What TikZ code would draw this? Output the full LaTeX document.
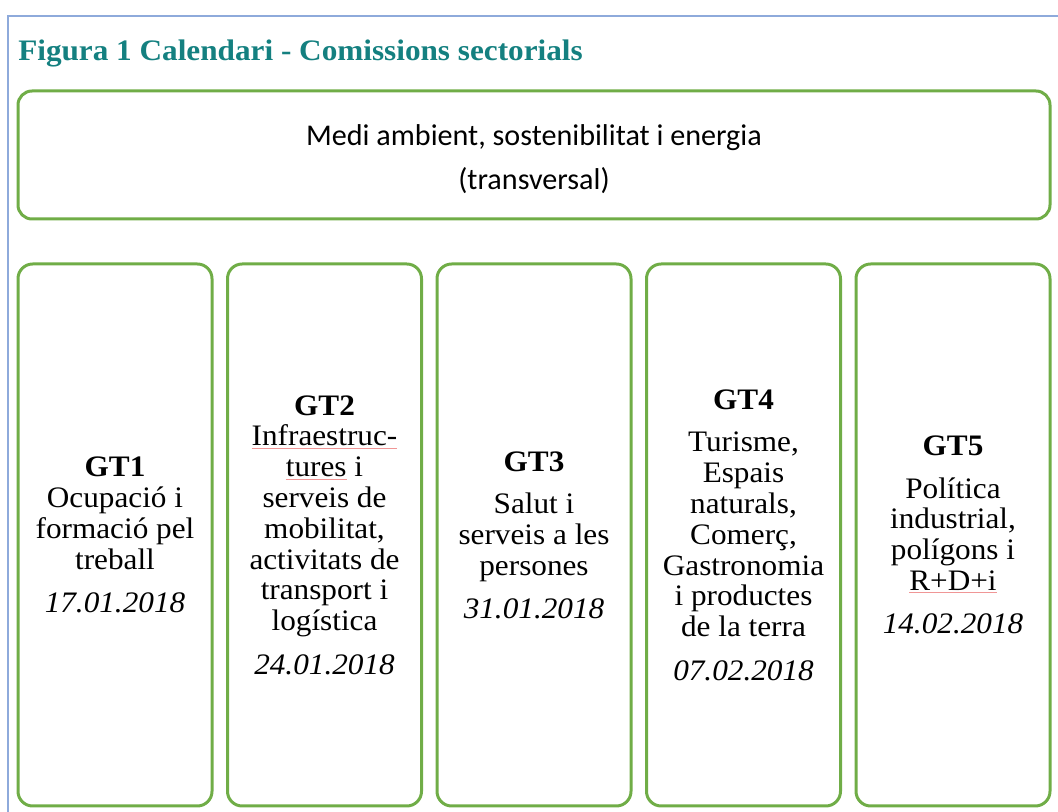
\documentclass[tikz,border=0pt]{standalone}
\usepackage{fontspec}
\setmainfont[FakeStretch=1.05]{Liberation Serif}
\newfontfamily\calibri{Carlito}
\usepackage{tikz}

\definecolor{framebl}{RGB}{142,170,219}
\definecolor{boxgreen}{RGB}{112,173,71}
\definecolor{titleteal}{RGB}{20,128,128}
\definecolor{spellred}{RGB}{240,150,150}
\newcommand\spellmark[1]{\textcolor{spellred}{\underline{\textcolor{black}{#1}}}}

\begin{document}
\begin{tikzpicture}[x=0.75pt,y=-0.75pt,
  gtbox/.style={draw=boxgreen,line width=2.25pt,rounded corners=11pt,
    minimum width=145.5pt,minimum height=406.5pt,inner sep=0pt,align=center,
    font=\fontsize{22.3}{23.1}\selectfont},
  topbox/.style={draw=boxgreen,line width=2.25pt,rounded corners=10.5pt,
    minimum width=774pt,minimum height=96pt,inner sep=0pt}]

\useasboundingbox (0,0) rectangle (1058,812);

\draw[framebl,line width=1.5pt] (8,812) -- (8,16) -- (1058,16);

\node[anchor=base west,inner sep=0pt,text=titleteal,font=\bfseries\fontsize{22.3}{24}\selectfont] (title) at (18,61) {Figura 1 Calendari - Comissions sectorials};

\node[topbox] (medi) at (534,155) {};
\node[align=center,font=\calibri\fontsize{22.6}{33.5}\selectfont] (meditext) at ([yshift=-3pt]medi.center) {Medi ambient, sostenibilitat i energia\\(transversal)};

\node[gtbox] (gt1) at (115,535) {\textbf{GT1}\\Ocupació i\\formació pel\\treball\\[9.5pt]\textit{17.01.2018}};
\node[gtbox] (gt2) at (324.5,535) {\textbf{GT2}\\\spellmark{Infraestruc-}\\\spellmark{tures} i\\serveis de\\mobilitat,\\activitats de\\transport i\\logística\\[9.5pt]\textit{24.01.2018}};
\node[gtbox] (gt3) at (534,535) {\textbf{GT3}\\[9pt]Salut i\\serveis a les\\persones\\[9pt]\textit{31.01.2018}};
\node[gtbox] (gt4) at (743.5,535) {\textbf{GT4}\\[9pt]Turisme,\\Espais\\naturals,\\Comerç,\\Gastronomia\\i productes\\de la terra\\[9.5pt]\textit{07.02.2018}};
\node[gtbox] (gt5) at (953,535) {\textbf{GT5}\\[9pt]Política\\industrial,\\polígons i\\\spellmark{R+D+i}\\[9.5pt]\textit{14.02.2018}};

\end{tikzpicture}
\end{document}
